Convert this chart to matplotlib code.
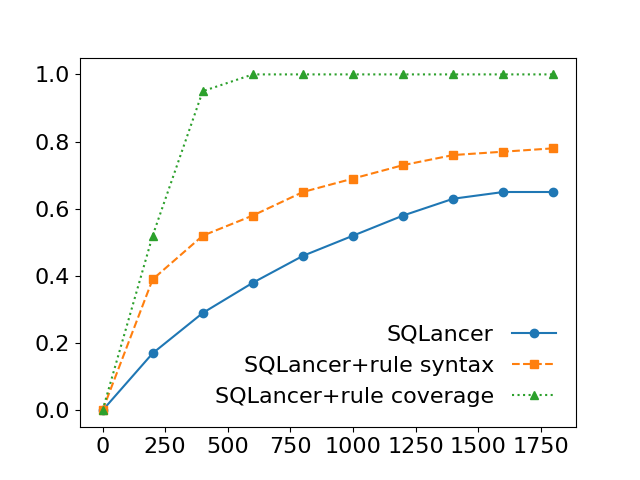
import numpy as np
import matplotlib
matplotlib.use('Agg')
import matplotlib.pyplot as plt

# jumlah iterasi
steps = [0, 200, 400, 600, 800, 1000, 1200, 1400, 1600, 1800]

sqlancer = [0.0, 0.17, 0.29, 0.38, 0.46, 0.52, 0.58, 0.63, 0.65, 0.65]
rule_syntax = [0.0, 0.39, 0.52, 0.58, 0.65, 0.69, 0.73, 0.76, 0.77, 0.78]
rule_coverage = [0.0, 0.52, 0.95, 1.0, 1.0, 1.0, 1.0, 1.0, 1.0, 1.0]

plt.rcParams['font.size'] = 16

fig, ax = plt.subplots(figsize=(6.4, 4.8), dpi=100)
ax.plot(steps, sqlancer, marker='o', linestyle='-', label='SQLancer')
ax.plot(steps, rule_syntax, marker='s', linestyle='--', label='SQLancer+rule syntax')
ax.plot(steps, rule_coverage, marker='^', linestyle=':', label='SQLancer+rule coverage')

ax.set_xticks(np.arange(0, 1751, 250))
ax.set_yticks(np.arange(0, 1.01, 0.2))
ax.legend(loc='lower right', frameon=False, markerfirst=False)

plt.savefig('out.png')
